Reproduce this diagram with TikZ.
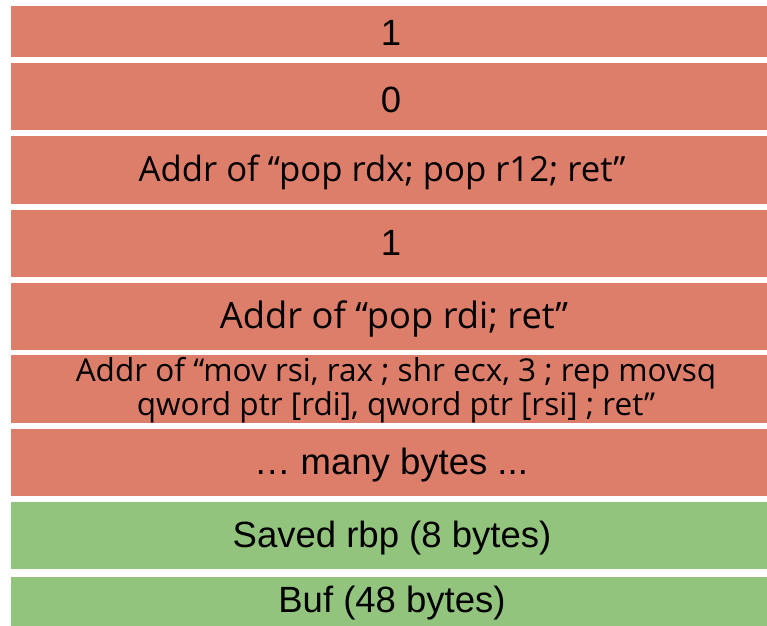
\documentclass[tikz,border=0pt]{standalone}
\usepackage{fontspec}
\setmainfont{Liberation Sans}
\newfontfamily\osans{Open Sans}
\definecolor{redbox}{HTML}{DD7E6B}
\definecolor{greenbox}{HTML}{93C47D}
\begin{document}
\begin{tikzpicture}[x=1pt,y=-1pt,
  cell/.style={rectangle, inner sep=0pt, minimum width=760pt, anchor=north west},
  redcell/.style={cell, fill=redbox},
  greencell/.style={cell, fill=greenbox},
  lab/.style={inner sep=0pt, anchor=center, font=\fontsize{36.5}{40}\selectfont},
  olab/.style={inner sep=0pt, anchor=center, font=\osans\fontsize{34.7}{36}\selectfont}]
\useasboundingbox (0,0) rectangle (767,625);
\node[redcell, minimum height=51pt] (b1) at (11,6) {};
\node[redcell, minimum height=67pt] (b2) at (11,63) {};
\node[redcell, minimum height=68pt] (b3) at (11,136) {};
\node[redcell, minimum height=67pt] (b4) at (11,210) {};
\node[redcell, minimum height=67pt] (b5) at (11,283) {};
\node[redcell, minimum height=68pt] (b6) at (11,355) {};
\node[redcell, minimum height=67pt] (b7) at (11,429) {};
\node[greencell, minimum height=67pt] (b8) at (11,502) {};
\node[greencell, minimum height=60pt] (b9) at (11,577) {};
\node[lab] (t1) at (391,33) {1};
\node[lab] (t2) at (391,100) {0};
\node[olab] (t3) at (382,172) {Addr of “pop rdx; pop r12; ret”};
\node[lab] (t4) at (391,243) {1};
\node[olab, font=\osans\fontsize{36.3}{40}\selectfont] (t5) at (394,319) {Addr of “pop rdi; ret”};
\node[olab, font=\osans\fontsize{31.5}{34}\selectfont, align=center] (t6) at (396,390) {Addr of “mov rsi, rax ; shr ecx, 3 ; rep movsq\\qword ptr [rdi], qword ptr [rsi] ; ret”};
\node[lab] (t7) at (391,465) {… many bytes ...};
\node[lab] (t8) at (392,538) {Saved rbp (8 bytes)};
\node[lab] (t9) at (392,603) {Buf (48 bytes)};
\end{tikzpicture}
\end{document}
